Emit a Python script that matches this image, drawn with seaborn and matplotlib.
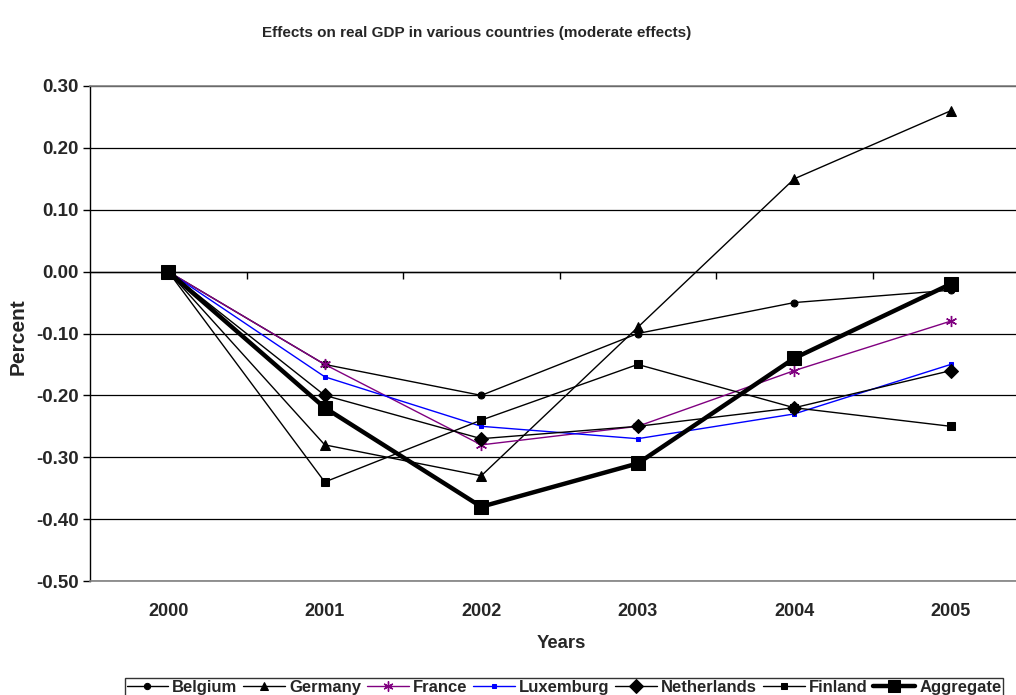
import numpy as np
import pandas as pd
import matplotlib
matplotlib.use("Agg")
import matplotlib.pyplot as plt
import seaborn as sns

years = ["2000", "2001", "2002", "2003", "2004", "2005"]
belgium = [0.00, -0.15, -0.20, -0.10, -0.05, -0.03]
germany = [0.00, -0.28, -0.33, -0.09, 0.15, 0.26]
france = [0.00, -0.15, -0.28, -0.25, -0.16, -0.08]
luxemburg = [0.00, -0.17, -0.25, -0.27, -0.23, -0.15]
netherlands = [0.00, -0.20, -0.27, -0.25, -0.22, -0.16]
finland = [0.00, -0.34, -0.24, -0.15, -0.22, -0.25]
aggregate = [0.00, -0.22, -0.38, -0.31, -0.14, -0.02]

y_ticks = [-0.50, -0.40, -0.30, -0.20, -0.10, 0.00, 0.10, 0.20, 0.30]

sns.set_theme(style="white")
plt.rcParams["font.family"] = ["Liberation Sans", "DejaVu Sans"]
plt.rcParams["font.weight"] = "bold"

fig = plt.figure(figsize=(10.16, 6.95), dpi=100)
ax = fig.add_axes([90 / 1016, 1 - 581 / 695, 939 / 1016, 495 / 695])

pos = np.arange(len(years))
styles = [
    ("Belgium", belgium, dict(color="black", marker="o", markersize=5, linewidth=1.0)),
    ("Germany", germany, dict(color="black", marker="^", markersize=6.5, linewidth=1.0)),
    ("France", france, dict(color="#800080", marker=(6, 2, 0), markersize=8, linewidth=1.0,
                            markeredgewidth=1.0)),
    ("Luxemburg", luxemburg, dict(color="#0000FF", marker="s", markersize=2.5, linewidth=1.0)),
    ("Netherlands", netherlands, dict(color="black", marker="D", markersize=7.5, linewidth=1.0)),
    ("Finland", finland, dict(color="black", marker="s", markersize=5.5, linewidth=1.0)),
    ("Aggregate", aggregate, dict(color="black", marker="s", markersize=10, linewidth=3.2)),
]

for name, vals, kw in styles:
    df = pd.DataFrame({"pos": pos, "value": vals})
    sns.lineplot(data=df, x="pos", y="value", ax=ax, label=name,
                 markeredgecolor=kw["color"], clip_on=False, **kw)

ax.set_xlim(-0.5, len(years) - 0.5)
ax.set_ylim(-0.5, 0.3)
ax.set_yticks(y_ticks)
ax.set_yticklabels([f"{v:.2f}" for v in y_ticks])
ax.set_xticks(pos)
ax.set_xticklabels(years)
ax.yaxis.grid(True, color="black", linewidth=0.9)
ax.set_axisbelow(True)
ax.tick_params(axis="y", direction="out", length=5, width=1, color="black",
               pad=3, labelsize=13.5, left=True)
ax.tick_params(axis="x", length=0, pad=16, labelsize=13)
for lab in ax.get_xticklabels() + ax.get_yticklabels():
    lab.set_fontweight("bold")

for side in ["top", "bottom"]:
    ax.spines[side].set_color("#808080")
    ax.spines[side].set_linewidth(1.2)
ax.spines["right"].set_visible(False)
ax.spines["left"].set_color("black")
ax.spines["left"].set_linewidth(1.0)

# category axis crossing at zero, with tick marks between categories
ax.axhline(0, color="black", linewidth=1.0, zorder=1.5)
sec = ax.secondary_xaxis(0.625)
sec.set_xticks(pos[:-1] + 0.5)
sec.tick_params(axis="x", direction="out", length=5, width=1, color="black",
                labelbottom=False, labeltop=False, bottom=True, top=False)
sec.xaxis.set_ticks_position("bottom")
sec.xaxis.set_tick_params(labelbottom=False, labeltop=False)
sec.spines["bottom"].set_visible(False)
sec.spines["top"].set_visible(False)

ax.set_xlabel("")
ax.set_ylabel("")
fig.text(477 / 1016, 1 - 33 / 695, "Effects on real GDP in various countries (moderate effects)",
         ha="center", va="center", fontsize=11, fontweight="bold")
fig.text(18 / 1016, 1 - 337 / 695, "Percent", rotation=90, ha="center", va="center",
         fontsize=15, fontweight="bold")
fig.text(561 / 1016, 1 - 643 / 695, "Years", ha="center", va="center",
         fontsize=13.3, fontweight="bold")

handles, labels = ax.get_legend_handles_labels()
leg = fig.legend(handles, labels, loc="upper center", bbox_to_anchor=(564 / 1016, 1 - 678 / 695),
                 ncol=7, frameon=True, fancybox=False, shadow=False, edgecolor="black",
                 prop=dict(size=12, weight="bold"), handlelength=2.5, handletextpad=0.25,
                 columnspacing=0.35, borderpad=0.1, borderaxespad=0, markerscale=0.9)
leg.get_frame().set_linewidth(1.0)
if ax.get_legend():
    ax.get_legend().remove()

fig.savefig("out.png", dpi=100, facecolor="white")
